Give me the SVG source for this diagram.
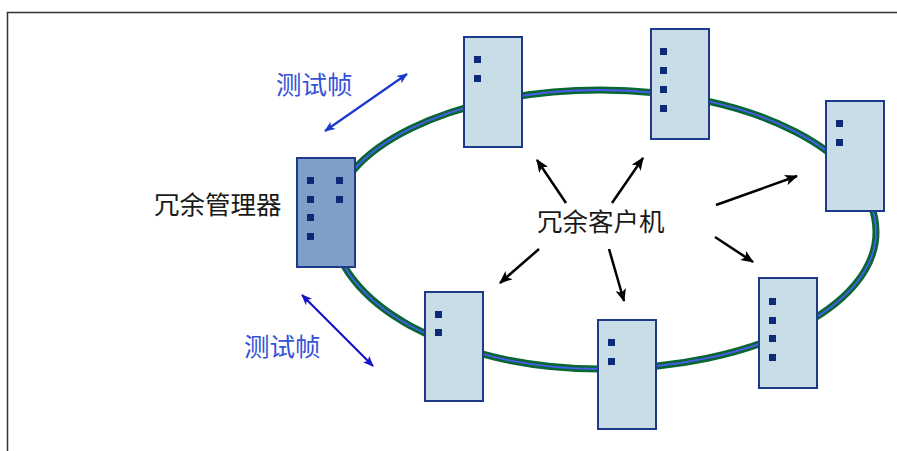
<svg xmlns="http://www.w3.org/2000/svg" width="897" height="451" viewBox="0 0 897 451">
  <style>
    .client rect.body { fill: #c9dde6; stroke: #1f3a8a; stroke-width: 2; }
    .manager rect.body { fill: #7f9fc9; stroke: #1f3a8a; stroke-width: 2; }
    .led { fill: #0c2a78; }
    .label { font-family: "Noto Sans CJK SC", "Noto Sans", sans-serif; font-size: 25.5px; }
    .dark { fill: #1a1a1a; }
    .blue { fill: #3352d8; }
    .ptr { stroke: #000; stroke-width: 2.5; fill: none; }
    .probe { stroke-width: 2.2; fill: none; }
  </style>
  <defs>
    <path id="ringPath" d="M600,90 C752.4,90 876,153.6 876,232 C876,307.7 752.4,369 600,369 C452,369 332,303.2 332,222 C332,149.1 452,90 600,90 Z"/>
    <marker id="blackHead" viewBox="0 0 12 10" refX="11" refY="5" markerWidth="13" markerHeight="11" markerUnits="userSpaceOnUse" orient="auto">
      <path d="M0,0 L12,5 L0,10 L3,5 z" fill="#000"/>
    </marker>
    <marker id="blueHead" viewBox="0 0 12 10" refX="11" refY="5" markerWidth="12" markerHeight="9" markerUnits="userSpaceOnUse" orient="auto-start-reverse">
      <path d="M0,0 L12,5 L0,10 L3,5 z" fill="#1a3acc"/>
    </marker>
    <marker id="blueHead2" viewBox="0 0 12 10" refX="11" refY="5" markerWidth="12" markerHeight="9" markerUnits="userSpaceOnUse" orient="auto-start-reverse">
      <path d="M0,0 L12,5 L0,10 L3,5 z" fill="#1212c8"/>
    </marker>
  </defs>

  <rect width="897" height="451" fill="#fff"/>
  <!-- page frame -->
  <path d="M7.5,451 V12.5 H897" fill="none" stroke="#333" stroke-width="1.5"/>

  <!-- ring network: green cable with a blue core -->
  <g id="ring">
    <use href="#ringPath" fill="none" stroke="#086632" stroke-width="7"/>
    <use href="#ringPath" fill="none" stroke="#4a5cf0" stroke-width="1.8"/>
  </g>

  <!-- redundancy manager -->
  <g id="manager" class="manager">
    <rect class="body" x="297" y="158" width="58" height="109"/>
    <rect class="led" x="307" y="177" width="7" height="7"/>
    <rect class="led" x="336" y="177" width="7" height="7"/>
    <rect class="led" x="307" y="196" width="7" height="7"/>
    <rect class="led" x="336" y="196" width="7" height="7"/>
    <rect class="led" x="307" y="214" width="7" height="7"/>
    <rect class="led" x="307" y="233" width="7" height="7"/>
  </g>

  <!-- redundancy clients -->
  <g id="client1" class="client">
    <rect class="body" x="464" y="37" width="58" height="110"/>
    <rect class="led" x="474" y="56" width="7" height="7"/>
    <rect class="led" x="474" y="75" width="7" height="7"/>
  </g>
  <g id="client2" class="client">
    <rect class="body" x="651" y="29" width="58" height="110"/>
    <rect class="led" x="660" y="48" width="7" height="7"/>
    <rect class="led" x="660" y="67" width="7" height="7"/>
    <rect class="led" x="660" y="86" width="7" height="7"/>
    <rect class="led" x="660" y="105" width="7" height="7"/>
  </g>
  <g id="client3" class="client">
    <rect class="body" x="826" y="101" width="58" height="110"/>
    <rect class="led" x="836" y="120" width="7" height="7"/>
    <rect class="led" x="836" y="139" width="7" height="7"/>
  </g>
  <g id="client4" class="client">
    <rect class="body" x="425" y="292" width="58" height="109"/>
    <rect class="led" x="435" y="311" width="7" height="7"/>
    <rect class="led" x="435" y="329" width="7" height="7"/>
  </g>
  <g id="client5" class="client">
    <rect class="body" x="598" y="320" width="58" height="109"/>
    <rect class="led" x="608" y="339" width="7" height="7"/>
    <rect class="led" x="608" y="358" width="7" height="7"/>
  </g>
  <g id="client6" class="client">
    <rect class="body" x="759" y="278" width="58" height="110"/>
    <rect class="led" x="769" y="298" width="7" height="7"/>
    <rect class="led" x="769" y="317" width="7" height="7"/>
    <rect class="led" x="769" y="335" width="7" height="7"/>
    <rect class="led" x="769" y="354" width="7" height="7"/>
  </g>

  <!-- labels -->
  <g id="labels">
    <text class="label dark" x="154" y="214">冗余管理器</text>
    <text class="label dark" x="537" y="231">冗余客户机</text>
    <text class="label blue" x="276" y="94">测试帧</text>
    <text class="label blue" x="244" y="356">测试帧</text>
  </g>

  <!-- connectors -->
  <g id="connectors">
    <line class="probe" x1="325" y1="131" x2="407" y2="74" stroke="#1a3acc" marker-start="url(#blueHead)" marker-end="url(#blueHead)"/>
    <line class="probe" x1="302" y1="295" x2="373" y2="366" stroke="#1212c8" marker-start="url(#blueHead2)" marker-end="url(#blueHead2)"/>
    <line class="ptr" x1="566" y1="203" x2="537" y2="160" marker-end="url(#blackHead)"/>
    <line class="ptr" x1="612" y1="203" x2="643" y2="158" marker-end="url(#blackHead)"/>
    <line class="ptr" x1="716" y1="205" x2="797" y2="176" marker-end="url(#blackHead)"/>
    <line class="ptr" x1="539" y1="249" x2="500" y2="283" marker-end="url(#blackHead)"/>
    <line class="ptr" x1="609" y1="249" x2="624" y2="301" marker-end="url(#blackHead)"/>
    <line class="ptr" x1="715" y1="237" x2="753" y2="262" marker-end="url(#blackHead)"/>
  </g>
</svg>
